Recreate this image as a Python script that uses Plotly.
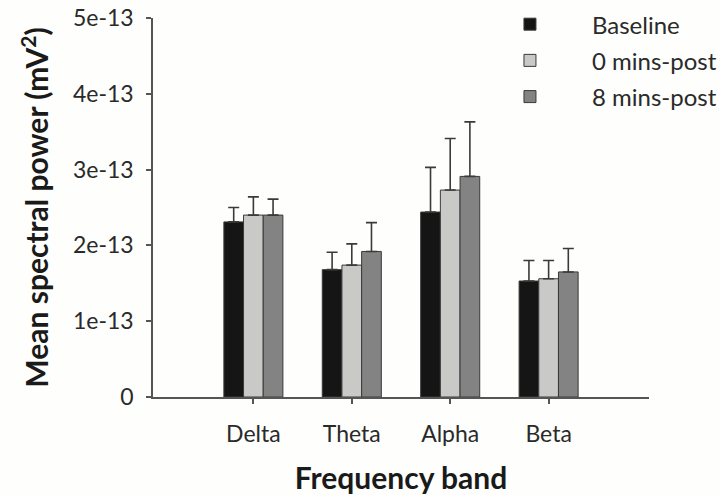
import plotly.graph_objects as go

bands = ["Delta", "Theta", "Alpha", "Beta"]

baseline = [2.31e-13, 1.68e-13, 2.44e-13, 1.53e-13]
post0 = [2.40e-13, 1.74e-13, 2.73e-13, 1.56e-13]
post8 = [2.40e-13, 1.92e-13, 2.91e-13, 1.65e-13]

# upper error (SEM) above each bar
baseline_err = [0.19e-13, 0.23e-13, 0.59e-13, 0.27e-13]
post0_err = [0.24e-13, 0.28e-13, 0.68e-13, 0.24e-13]
post8_err = [0.21e-13, 0.38e-13, 0.72e-13, 0.31e-13]

ytick_vals = [0, 1e-13, 2e-13, 3e-13, 4e-13, 5e-13]
ytick_text = ["0", "1e-13", "2e-13", "3e-13", "4e-13", "5e-13"]

series = [
    ("Baseline", baseline, baseline_err, "#151515"),
    ("0 mins-post", post0, post0_err, "#c9c9c7"),
    ("8 mins-post", post8, post8_err, "#838383"),
]

font_family = "Lato, 'Open Sans', sans-serif"

fig = go.Figure()
for name, vals, err, color in series:
    fig.add_trace(go.Bar(
        x=bands, y=vals, name=name, legendgroup=name,
        marker=dict(color=color, line=dict(color="#3a3a3a", width=1)),
        error_y=dict(type="data", symmetric=False, array=err,
                     arrayminus=[0] * len(err), color="#3a3a3a",
                     thickness=1.6, width=5.5),
    ))

fig.update_layout(
    width=721, height=495,
    margin=dict(l=153, r=72, t=18, b=98, autoexpand=False),
    paper_bgcolor="#fefefc", plot_bgcolor="#fefefc",
    barmode="group", bargap=0.4, bargroupgap=0,
    font=dict(family=font_family, color="#2a2a2a", size=23),
    showlegend=True,
    legend=dict(x=0.635, xanchor="left", y=1.042, yanchor="top",
                bgcolor="rgba(0,0,0,0)",
                font=dict(size=24, color="#2a2a2a"),
                itemwidth=114, tracegroupgap=2, traceorder="grouped"),
    xaxis=dict(
        range=[-1.02, 4.02], showline=True, linecolor="#555", linewidth=1.5,
        ticks="outside", ticklen=5, tickcolor="#555", tickwidth=1.5,
        ticklabelstandoff=11, showgrid=False, zeroline=False, automargin=False,
        title=dict(text="<b>Frequency band</b>", font=dict(size=30, color="#1a1a1a"),
                   standoff=26),
    ),
    yaxis=dict(
        range=[0, 5e-13], tickvals=ytick_vals, ticktext=ytick_text,
        showline=True, linecolor="#555", linewidth=1.5,
        ticks="outside", ticklen=5, tickcolor="#555", tickwidth=1.5,
        ticklabelstandoff=8, showgrid=False, zeroline=False, automargin=False,
        title=dict(text="<b>Mean spectral power (mV<sup>2</sup>)</b>",
                   font=dict(size=30, color="#1a1a1a"), standoff=15),
    ),
)

fig.write_html("out.html")
